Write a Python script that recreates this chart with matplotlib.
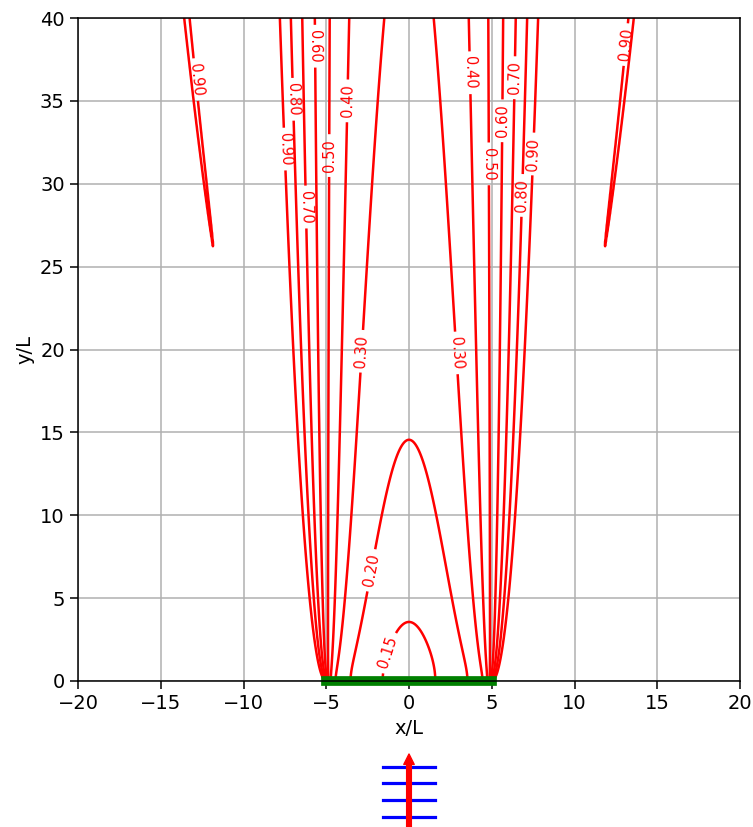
import numpy as np
import matplotlib
matplotlib.use("Agg")
import matplotlib.pyplot as plt

# wave / structure setup (lengths in wavelengths L)
wavelength = 1.0
breakwater_x = [-5.0, 5.0]
breakwater_y = [0.0, 0.0]
x_range = [-20.0, 20.0]
y_range = [0.0, 40.0]

levels = [0.15, 0.20, 0.30, 0.40, 0.50, 0.60, 0.70, 0.80, 0.90]
x_ticks = [-20, -15, -10, -5, 0, 5, 10, 15, 20]
y_ticks = [0, 5, 10, 15, 20, 25, 30, 35, 40]

# where the contour labels sit (x/L, y/L)
label_pos = [
    (-12.7, 36.3), (-7.3, 32.1), (-6.85, 35.1), (-6.0, 28.6), (-5.5, 38.3),
    (-4.9, 31.7), (-3.75, 35.0), (-2.96, 19.9), (-2.4, 6.7), (-1.25, 1.7),
    (13.05, 38.4), (3.85, 36.7), (6.2, 36.4), (5.5, 33.8), (4.9, 31.2),
    (7.4, 31.8), (6.7, 29.3), (2.98, 19.8),
]

# sketch of incoming wave crests below the plot
crest_y = [0.129, 0.338, 0.546, 0.754]
crest_half = 0.66


def fresnel_table(umax=22.0, n=220001):
    u = np.linspace(0.0, umax, n)
    du = u[1] - u[0]
    cc = np.cos(np.pi * u**2 / 2)
    ss = np.sin(np.pi * u**2 / 2)
    c = np.concatenate([[0.0], np.cumsum((cc[1:] + cc[:-1]) / 2 * du)])
    s = np.concatenate([[0.0], np.cumsum((ss[1:] + ss[:-1]) / 2 * du)])
    return u, c, s


U_TAB, C_TAB, S_TAB = fresnel_table()


def fresnel_f(w):
    a = np.abs(w)
    sg = np.sign(w)
    c = np.interp(a, U_TAB, C_TAB) * sg
    s = np.interp(a, U_TAB, S_TAB) * sg
    return (1 - 1j) / 2 * ((c + 0.5) + 1j * (s + 0.5))


def sommerfeld(xp, y, k, theta0=1.5 * np.pi):
    # semi-infinite rigid breakwater along xp > 0, tip at origin
    r = np.hypot(xp, y)
    th = np.arctan2(y, xp)
    a = 2 * np.sqrt(k * r / np.pi)
    inc = np.exp(-1j * k * r * np.cos(th - theta0)) * fresnel_f(a * np.cos((th - theta0) / 2))
    ref = np.exp(-1j * k * r * np.cos(th + theta0)) * fresnel_f(a * np.cos((th + theta0) / 2))
    return inc + ref


k = 2 * np.pi / wavelength
x = np.linspace(x_range[0], x_range[1], 801)
y = np.linspace(y_range[0], y_range[1], 801)
X, Y = np.meshgrid(x, y)

# two breakwater tips, combined by energy
F_left = sommerfeld(X - breakwater_x[0], Y, k)
F_right = sommerfeld(breakwater_x[1] - X, Y, k)
K = np.sqrt(np.abs(F_left)**2 + np.abs(F_right)**2)

fig = plt.figure(figsize=(7.53, 8.27), dpi=100)
ax = fig.add_axes([78 / 753, 1 - 681 / 827, 662 / 753, 663 / 827])
ax.set_xlim(x_range)
ax.set_ylim(y_range)
ax.set_xticks(x_ticks)
ax.set_yticks(y_ticks)
ax.grid(True, color="#b0b0b0", lw=1.1)
ax.set_axisbelow(True)

cs = ax.contour(X, Y, K, levels=levels, colors="red", linewidths=1.8)
ax.clabel(cs, fmt="%.2f", fontsize=10.5, inline=True, manual=label_pos)

ax.plot(breakwater_x, breakwater_y, color="green", lw=7, clip_on=False, zorder=2.2)

ax.set_xlabel("x/L", fontsize=14)
ax.set_ylabel("y/L", fontsize=14)
ax.tick_params(labelsize=14, length=6, width=1.1)
for sp in ax.spines.values():
    sp.set_linewidth(1.1)

# incident wave sketch
ax2 = fig.add_axes([369 / 753, 0, 80 / 753, 80 / 827])
ax2.set_xlim(-1, 1)
ax2.set_ylim(0, 1)
ax2.axis("off")
for cy in crest_y:
    ax2.plot([-crest_half, crest_half], [cy, cy], color="blue", lw=2.3)
ax2.annotate("", xy=(0, 0.9125), xytext=(0, -0.2),
             arrowprops=dict(facecolor="red", edgecolor="red", width=3.4,
                             headwidth=7.5, headlength=7.5), zorder=5)

fig.savefig("out.png", dpi=100)
